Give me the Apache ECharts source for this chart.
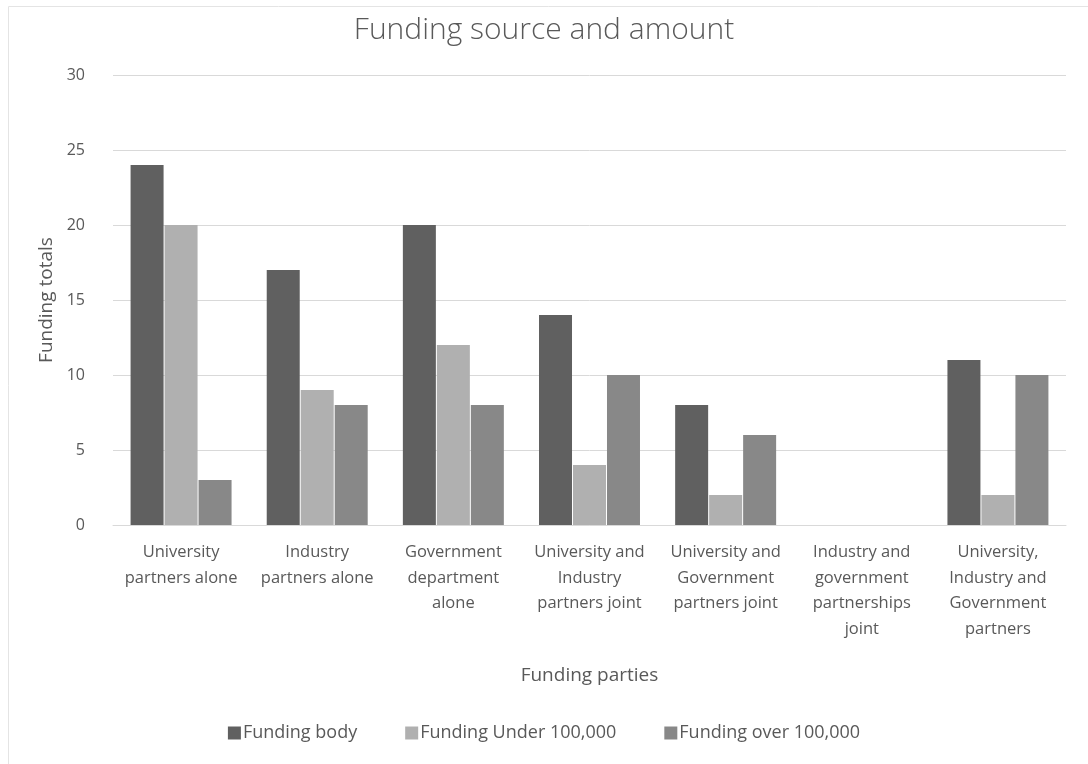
<!DOCTYPE html>
<html>
<head>
<meta charset="utf-8">
<title>Funding source and amount</title>
<script src="https://cdn.jsdelivr.net/npm/echarts@6/dist/echarts.min.js"></script>
<style>
  html, body { margin: 0; padding: 0; background: #fff; }
  #chart { width: 1088px; height: 764px; }
</style>
</head>
<body>
<div id="chart"></div>
<script>
const categories = [
  'University\npartners alone',
  'Industry\npartners alone',
  'Government\ndepartment\nalone',
  'University and\nIndustry\npartners joint',
  'University and\nGovernment\npartners joint',
  'Industry and\ngovernment\npartnerships\njoint',
  'University,\nIndustry and\nGovernment\npartners'
];
const fundingBody = [24, 17, 20, 14, 8, 0, 11];
const fundingUnder = [20, 9, 12, 4, 2, 0, 2];
const fundingOver = [3, 8, 8, 10, 6, 0, 10];
const yTicks = { min: 0, max: 30, interval: 5 };

const font = '"Open Sans", "Noto Sans", sans-serif';
const textColor = '#595959';

const chart = echarts.init(document.getElementById('chart'));
const option = {
  animation: false,
  textStyle: { fontFamily: font },
  color: ['#606060', '#b0b0b0', '#888888'],
  graphic: [
    {
      type: 'rect',
      shape: { x: 8.5, y: 6.5, width: 1100, height: 800 },
      style: { fill: 'none', stroke: '#e4e4e4', lineWidth: 1 },
      silent: true
    }
  ],
  title: {
    text: 'Funding source and amount',
    left: 'center',
    top: 10,
    textStyle: { fontFamily: font, fontSize: 30, fontWeight: 300, color: textColor }
  },
  legend: {
    bottom: 17,
    left: 'center',
    itemWidth: 13,
    itemHeight: 13,
    itemGap: 48,
    icon: 'rect',
    textStyle: { fontFamily: font, fontSize: 18, color: textColor, padding: [0, 0, 0, -3] },
    data: ['Funding body', 'Funding Under 100,000', 'Funding over 100,000']
  },
  grid: { left: 113, right: 22, top: 75, bottom: 239 },
  xAxis: {
    type: 'category',
    data: categories,
    name: 'Funding parties',
    nameLocation: 'middle',
    nameGap: 141,
    nameTextStyle: { fontFamily: font, fontSize: 19, color: textColor },
    axisLine: { lineStyle: { color: '#d9d9d9' } },
    axisTick: { show: false },
    axisLabel: {
      interval: 0,
      margin: 15,
      fontFamily: font,
      fontSize: 16.5,
      lineHeight: 25.5,
      color: textColor
    }
  },
  yAxis: {
    type: 'value',
    min: yTicks.min,
    max: yTicks.max,
    interval: yTicks.interval,
    name: 'Funding totals',
    nameLocation: 'middle',
    nameGap: 54,
    nameTextStyle: { fontFamily: font, fontSize: 19, color: textColor },
    axisLine: { show: false },
    axisTick: { show: false },
    axisLabel: { fontFamily: font, fontSize: 16, color: textColor, margin: 28 },
    splitLine: { lineStyle: { color: '#d9d9d9' } }
  },
  series: [
    { name: 'Funding body', type: 'bar', data: fundingBody, barWidth: 33, barGap: '3%' },
    { name: 'Funding Under 100,000', type: 'bar', data: fundingUnder, barWidth: 33, barGap: '3%' },
    { name: 'Funding over 100,000', type: 'bar', data: fundingOver, barWidth: 33, barGap: '3%' }
  ]
};
chart.setOption(option);
</script>
</body>
</html>
